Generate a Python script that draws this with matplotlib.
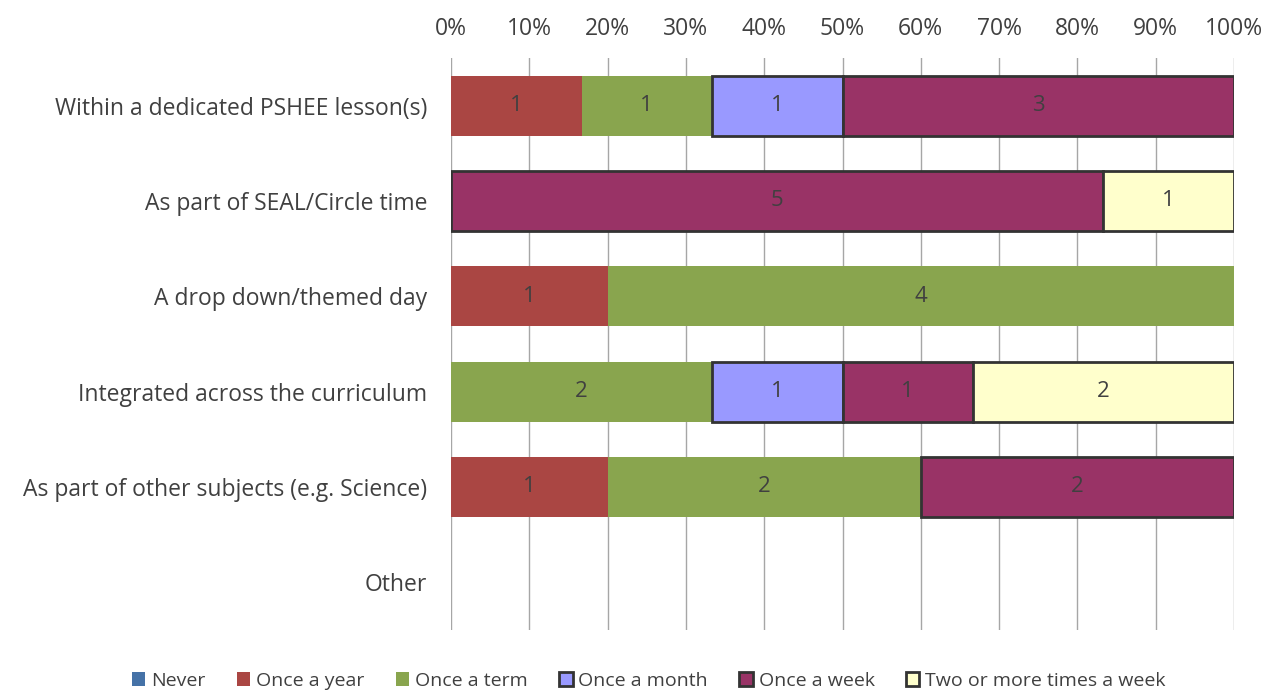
import matplotlib
matplotlib.use("Agg")
import matplotlib.pyplot as plt
from matplotlib.patches import Patch
import numpy as np

plt.rcParams["font.family"] = ["Open Sans", "DejaVu Sans"]

categories = [
    "Within a dedicated PSHEE lesson(s)",
    "As part of SEAL/Circle time",
    "A drop down/themed day",
    "Integrated across the curriculum",
    "As part of other subjects (e.g. Science)",
    "Other",
]
series = ["Never", "Once a year", "Once a term", "Once a month", "Once a week",
          "Two or more times a week"]
never = [0, 0, 0, 0, 0, 0]
once_year = [1, 0, 1, 0, 1, 0]
once_term = [1, 0, 4, 2, 2, 0]
once_month = [1, 0, 0, 1, 0, 0]
once_week = [3, 5, 0, 1, 2, 0]
two_plus = [0, 1, 0, 2, 0, 0]

colors = ["#4572A7", "#AA4643", "#89A54E", "#9999FF", "#993366", "#FFFFCC"]
edges = [None, None, None, "#333333", "#333333", "#333333"]
TEXT = "#404040"

data = np.array([never, once_year, once_term, once_month, once_week, two_plus], dtype=float)
totals = data.sum(axis=0)
safe = np.where(totals == 0, 1, totals)
pct = data / safe * 100

fig = plt.figure(figsize=(12.72, 6.9), dpi=100)
ax = fig.add_axes([0.3546, 0.087, 0.6155, 0.829])

y = np.arange(len(categories))
left = np.zeros(len(categories))
handles = []
for i, name in enumerate(series):
    if edges[i]:
        # no outline on empty segments, otherwise a stray line shows up
        lw = np.where(pct[i] > 0, 2.0, 0.0)
        ax.barh(y, pct[i], left=left, color=colors[i], height=0.63,
                edgecolor=edges[i], linewidth=lw, zorder=3)
        handles.append(Patch(facecolor=colors[i], edgecolor=edges[i], linewidth=2, label=name))
    else:
        ax.barh(y, pct[i], left=left, color=colors[i], height=0.63,
                linewidth=0, zorder=3)
        handles.append(Patch(facecolor=colors[i], linewidth=0, label=name))
    for j in range(len(categories)):
        if data[i, j] > 0:
            ax.text(left[j] + pct[i, j] / 2, y[j], f"{int(data[i, j])}",
                    ha="center", va="center", fontsize=16, color=TEXT, zorder=4)
    left += pct[i]

ax.set_xlim(0, 100)
ax.set_ylim(len(categories) - 0.5, -0.5)
ax.set_yticks(y)
ax.set_yticklabels(categories, fontsize=16.5, color=TEXT)
ax.set_xticks(np.arange(0, 101, 10))
ax.set_xticklabels([f"{v}%" for v in range(0, 101, 10)], fontsize=16.5, color=TEXT)
ax.xaxis.tick_top()
ax.tick_params(axis="y", length=0, pad=17)
ax.tick_params(axis="x", length=0, pad=12)
ax.grid(axis="x", color="#A6A6A6", linewidth=1, zorder=0)
for s in ax.spines.values():
    s.set_visible(False)

fig.legend(handles=handles, loc="lower center", ncol=6, bbox_to_anchor=(0.51, -0.025),
           frameon=False, fontsize=14, handlelength=0.7, handleheight=0.7,
           handletextpad=0.3, columnspacing=1.6, labelcolor=TEXT)

fig.savefig("out.png", dpi=100)
